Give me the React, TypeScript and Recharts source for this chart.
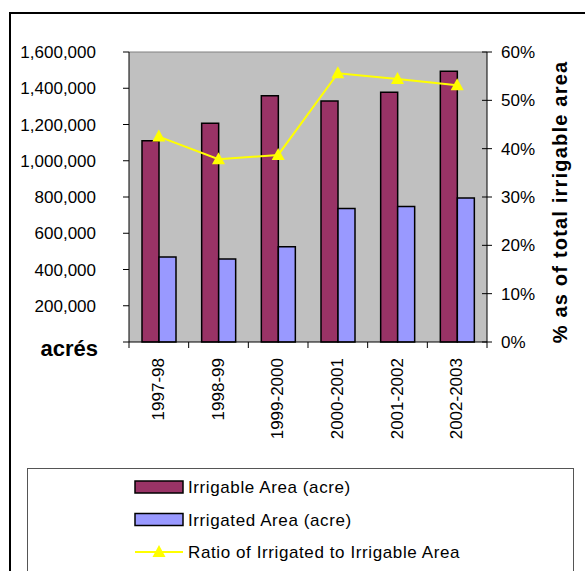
import React from 'react'
import {
  ComposedChart, Bar, Line, XAxis, YAxis, CartesianGrid, ReferenceLine,
} from 'recharts'

// ── Data ─────────────────────────────────────────────────────────────────────

const years = ['1997-98', '1998-99', '1999-2000', '2000-2001', '2001-2002', '2002-2003']
const irrigable = [1110000, 1207000, 1359000, 1330000, 1378000, 1494000]
const irrigated = [469000, 458000, 526000, 736000, 747000, 795000]
const ratio = [0.425, 0.378, 0.387, 0.556, 0.544, 0.531]

const leftTicks = [0, 200000, 400000, 600000, 800000, 1000000, 1200000, 1400000, 1600000]
const rightTicks = [0, 0.1, 0.2, 0.3, 0.4, 0.5, 0.6]

const NAME_IRRIGABLE = 'Irrigable Area (acre)'
const NAME_IRRIGATED = 'Irrigated Area (acre)'
const NAME_RATIO = 'Ratio of Irrigated to Irrigable Area'
const LEFT_UNIT = 'acrés'
const RIGHT_TITLE = '% as of total irrigable area'

const data = years.map((y, i) => ({
  year: y,
  irrigable: irrigable[i],
  irrigated: irrigated[i],
  ratio: ratio[i],
}))

// ── Layout ───────────────────────────────────────────────────────────────────

const W = 585
const H = 571
const FONT = '"Liberation Sans", Arial, sans-serif'
const PLOT_LEFT = 129
const PLOT_RIGHT = 487
const BAND = (PLOT_RIGHT - PLOT_LEFT) / years.length

const MAROON = '#993366'
const PERIWINKLE = '#9999FF'
const YELLOW = '#FFFF00'

// ── Ticks ────────────────────────────────────────────────────────────────────

function LeftTick({ x, y, payload }: any) {
  const isZero = payload.value === 0
  return (
    <g>
      <line x1={x + 27} x2={x + 33} y1={y} y2={y} stroke="#000" strokeWidth={1} />
      {isZero ? (
        <text x={x + 2} y={y + 14} textAnchor="end" fontFamily={FONT} fontSize={22} fontWeight={700} fill="#000">
          {LEFT_UNIT}
        </text>
      ) : (
        <text x={x} y={y} dy={6} textAnchor="end" fontFamily={FONT} fontSize={17} fill="#000">
          {payload.value.toLocaleString('en-US')}
        </text>
      )}
    </g>
  )
}

function RightTick({ x, y, payload }: any) {
  return (
    <g>
      <line x1={x - 19} x2={x - 9} y1={y} y2={y} stroke="#000" strokeWidth={1} />
      <text x={x} y={y} dy={6} textAnchor="start" fontFamily={FONT} fontSize={17} fill="#000">
        {`${Math.round(payload.value * 100)}%`}
      </text>
    </g>
  )
}

function XTick({ x, y, payload, index }: any) {
  const tx = x + 5
  const ty = y + 16
  return (
    <g>
      <line x1={x - BAND / 2} x2={x - BAND / 2} y1={y} y2={y + 6} stroke="#000" />
      {index === years.length - 1 && (
        <line x1={x + BAND / 2} x2={x + BAND / 2} y1={y} y2={y + 6} stroke="#000" />
      )}
      <text
        x={tx}
        y={ty}
        textAnchor="end"
        transform={`rotate(-90, ${tx}, ${ty})`}
        fontFamily={FONT}
        fontSize={17}
        fill="#000"
      >
        {payload.value}
      </text>
    </g>
  )
}

function Triangle({ cx, cy, fill }: any) {
  if (cx == null || cy == null) return null
  return <polygon points={`${cx},${cy - 7} ${cx - 6.5},${cy + 5} ${cx + 6.5},${cy + 5}`} fill={fill} />
}

function RightTitle({ viewBox }: any) {
  const x = 560
  const y = viewBox.y + viewBox.height / 2 + 5
  return (
    <text
      x={x}
      y={y}
      textAnchor="middle"
      dominantBaseline="central"
      transform={`rotate(-90, ${x}, ${y})`}
      fontFamily={FONT}
      fontSize={20}
      fontWeight={700}
      letterSpacing={1.2}
      fill="#000"
    >
      {RIGHT_TITLE}
    </text>
  )
}

// ── Legend ───────────────────────────────────────────────────────────────────

const legendItems = [
  { name: NAME_IRRIGABLE, color: MAROON, kind: 'bar' },
  { name: NAME_IRRIGATED, color: PERIWINKLE, kind: 'bar' },
  { name: NAME_RATIO, color: YELLOW, kind: 'line' },
]

function ChartLegend() {
  return (
    <svg width={W} height={H} style={{ position: 'absolute', left: 0, top: 0, pointerEvents: 'none' }}>
      <rect x={27.5} y={468.5} width={546} height={200} fill="#fff" stroke="#555" strokeWidth={1} />
      {legendItems.map((it, i) => {
        const cy = 487 + i * 32.5
        return (
          <g key={it.name}>
            {it.kind === 'bar' ? (
              <rect x={135} y={cy - 6} width={48} height={12} fill={it.color} stroke="#000" strokeWidth={1.5} />
            ) : (
              <g>
                <line x1={135} x2={183} y1={cy} y2={cy} stroke={it.color} strokeWidth={2} />
                <Triangle cx={159} cy={cy} fill={it.color} />
              </g>
            )}
            <text x={188} y={cy} dy={6} fontFamily={FONT} fontSize={17} letterSpacing={0.6} fill="#000">
              {it.name}
            </text>
          </g>
        )
      })}
    </svg>
  )
}

// ── App ──────────────────────────────────────────────────────────────────────

export default function App() {
  return (
    <div style={{ position: 'absolute', left: 0, top: 0, width: W, height: H, overflow: 'hidden', background: '#fff' }}>
      <div
        style={{
          position: 'absolute', left: 9, top: 12, width: 620, height: 620,
          border: '2px solid #000', boxSizing: 'border-box',
        }}
      />
      <div style={{ position: 'absolute', left: 0, top: 0 }}>
        <ComposedChart
          width={W}
          height={H}
          data={data}
          margin={{ top: 52, right: 20, bottom: 129, left: 0 }}
          barGap={0}
          barSize={17}
        >
          <CartesianGrid fill="#C0C0C0" horizontal={false} vertical={false} />
          <XAxis
            dataKey="year"
            height={100}
            axisLine={{ stroke: '#000' }}
            tickLine={false}
            tickSize={0}
            tickMargin={0}
            interval={0}
            tick={<XTick />}
          />
          <YAxis
            yAxisId="left"
            width={129}
            domain={[0, 1600000]}
            ticks={leftTicks}
            axisLine={{ stroke: '#000' }}
            tickLine={false}
            tickSize={0}
            tickMargin={33}
            interval={0}
            tick={<LeftTick />}
          />
          <YAxis
            yAxisId="right"
            orientation="right"
            width={78}
            domain={[0, 0.6]}
            ticks={rightTicks}
            axisLine={{ stroke: '#000' }}
            tickLine={false}
            tickSize={0}
            tickMargin={14}
            interval={0}
            tick={<RightTick />}
            label={<RightTitle />}
          />
          <ReferenceLine yAxisId="left" y={1600000} stroke="#808080" />
          <Bar yAxisId="left" dataKey="irrigable" name={NAME_IRRIGABLE} fill={MAROON} stroke="#000" strokeWidth={1.5} isAnimationActive={false} />
          <Bar yAxisId="left" dataKey="irrigated" name={NAME_IRRIGATED} fill={PERIWINKLE} stroke="#000" strokeWidth={1.5} isAnimationActive={false} />
          <Line
            yAxisId="right"
            dataKey="ratio"
            name={NAME_RATIO}
            stroke={YELLOW}
            strokeWidth={2}
            dot={<Triangle fill={YELLOW} />}
            activeDot={false}
            isAnimationActive={false}
          />
        </ComposedChart>
      </div>
      <ChartLegend />
    </div>
  )
}
